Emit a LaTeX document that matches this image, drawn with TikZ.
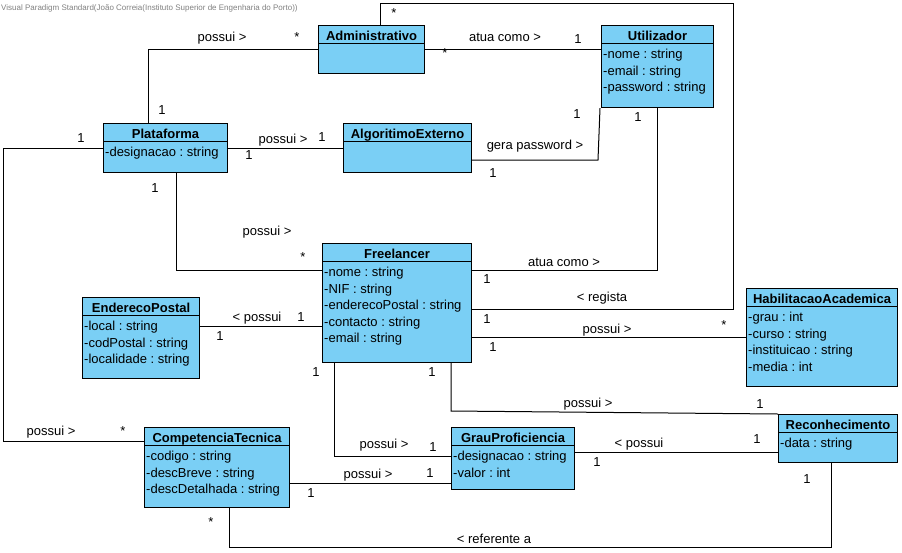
\documentclass[tikz,border=0pt]{standalone}
\usepackage{fontspec}
\setmainfont{Liberation Sans}
\frenchspacing
\usetikzlibrary{calc}
\definecolor{umlblue}{RGB}{122,207,245}
\tikzset{
  cls/.style={draw, fill=umlblue, line width=1.1pt, anchor=north west, inner sep=0pt},
  clsline/.style={line width=1pt},
  clsname/.style={font=\fontsize{13}{15}\selectfont\bfseries, anchor=base, inner sep=0pt},
  attr/.style={anchor=base west, inner sep=0pt},
  lbl/.style={inner sep=0pt},
  assoc/.style={line width=1pt}
}
\newcommand{\umlclass}[6]{%
  \node[cls, minimum width=#4pt, minimum height=#5pt] (#1) at (#2,#3) {};
  \draw[clsline] ([yshift=-18pt]#1.north west) -- ([yshift=-18pt]#1.north east);
  \node[clsname] (#1-t) at ([yshift=-15pt]#1.north) {#6};
}
\newcommand{\umlattrs}[2]{%
  \foreach \t [count=\i] in {#2}
    \node[attr] (#1-a\i) at ([xshift=2pt,yshift={-17pt-16.5pt*\i}]#1.north west) {\t};
}
\begin{document}
\begin{tikzpicture}[x=1pt,y=-1pt,font=\fontsize{13}{15}\selectfont,line join=miter]
\useasboundingbox (0,0) rectangle (902,552);
\node[anchor=base west, inner sep=0pt, text=gray, font=\fontsize{8}{9}\selectfont] (vp) at (1,10)
  {Visual Paradigm Standard(João Correia(Instituto Superior de Engenharia do Porto))};

\umlclass{admin}{318}{25}{106}{48}{Administrativo}
\umlclass{util}{601}{25}{112}{82}{Utilizador}
\umlattrs{util}{-nome : string,-email : string,-password : string}
\umlclass{plat}{103}{123}{124}{49}{Plataforma}
\umlattrs{plat}{-designacao : string}
\umlclass{algo}{343}{123}{128}{49}{AlgoritimoExterno}
\umlclass{free}{322}{243}{149}{119}{Freelancer}
\umlattrs{free}{-nome : string,-NIF : string,-enderecoPostal : string,-contacto : string,-email : string}
\umlclass{ender}{82}{297}{117}{81}{EnderecoPostal}
\umlattrs{ender}{-local : string,-codPostal : string,-localidade : string}
\umlclass{habil}{746}{288}{151}{98}{HabilitacaoAcademica}
\umlattrs{habil}{-grau : int,-curso : string,-instituicao : string,-media : int}
\umlclass{compt}{144}{427}{145}{80}{CompetenciaTecnica}
\umlattrs{compt}{-codigo : string,-descBreve : string,-descDetalhada : string}
\umlclass{grau}{451}{427}{123}{62}{GrauProficiencia}
\umlattrs{grau}{-designacao : string,-valor : int}
\umlclass{recon}{778}{414}{119}{48}{Reconhecimento}
\umlattrs{recon}{-data : string}

\coordinate (regTop) at (733,3);
\coordinate (genPw) at (598,160);
\coordinate (cLeft) at (3,441);
\coordinate (recBend) at (451,411);
\coordinate (refBot) at (831,547);

\draw[assoc] ([xshift=45pt]plat.north west) |- ([yshift=-24pt]admin.north west);
\draw[assoc] ([yshift=-24pt]admin.north east) -- ([yshift=-24pt]util.north west);
\draw[assoc] ([xshift=62pt]admin.north west) |- (regTop) |- ([yshift=-66pt]free.north east);
\draw[assoc] ([yshift=-25pt]plat.north east) -- ([yshift=-25pt]algo.north west);
\draw[assoc] ([yshift=-37pt]algo.north east) -- (genPw) -- ([xshift=-1pt]util.south west);
\draw[assoc] ([xshift=56pt]util.south west) |- ([yshift=-27pt]free.north east);
\draw[assoc] ([xshift=73pt]plat.south west) |- ([yshift=-27pt]free.north west);
\draw[assoc] ([yshift=-25pt]plat.north west) -| (cLeft) -- ([yshift=-14pt]compt.north west);
\draw[assoc] ([yshift=-29pt]ender.north east) -- ([yshift=-83pt]free.north west);
\draw[assoc] ([yshift=-94pt]free.north east) -- ([yshift=-49pt]habil.north west);
\draw[assoc] ([xshift=129pt]free.south west) -- (recBend) -- (recon.north west);
\draw[assoc] ([xshift=12pt]free.south west) |- ([yshift=-29pt]grau.north west);
\draw[assoc] ([yshift=-56pt]compt.north east) -- ([yshift=-56pt]grau.north west);
\draw[assoc] ([yshift=-25pt]grau.north east) -- ([yshift=-38pt]recon.north west);
\draw[assoc] ([xshift=85pt]compt.south west) |- (refBot) -- ([xshift=53pt]recon.south west);

\foreach \x/\y/\t [count=\n] in {
  222/38/possui >, 297/37/*, 162/110/1,
  505/37/atua como >, 445/53/*, 578/39/1,
  394/13/*, 602/298/< regista, 487/319/1,
  283/140/possui >, 322/137/1, 249/155/1,
  535/146/gera password >, 493/173/1, 577/114/1,
  564/262/atua como >, 638/117/1, 487/279/1,
  267/232/possui >, 155/188/1, 303/257/*,
  51/432/possui >, 81/138/1, 123/431/*,
  257/318/< possui, 301/317/1, 220/336/1,
  607/330/possui >, 493/347/1, 724/325/*,
  588/404/possui >, 760/404/1, 432/372/1,
  384/445/possui >, 316/372/1, 433/447/1,
  368/475/possui >, 430/473/1, 311/493/1,
  639/444/< possui, 597/462/1, 757/439/1,
  494/539/< referente a, 211/522/*, 807/479/1}
  \node[lbl] (m\n) at (\x,\y) {\t};
\end{tikzpicture}
\end{document}
